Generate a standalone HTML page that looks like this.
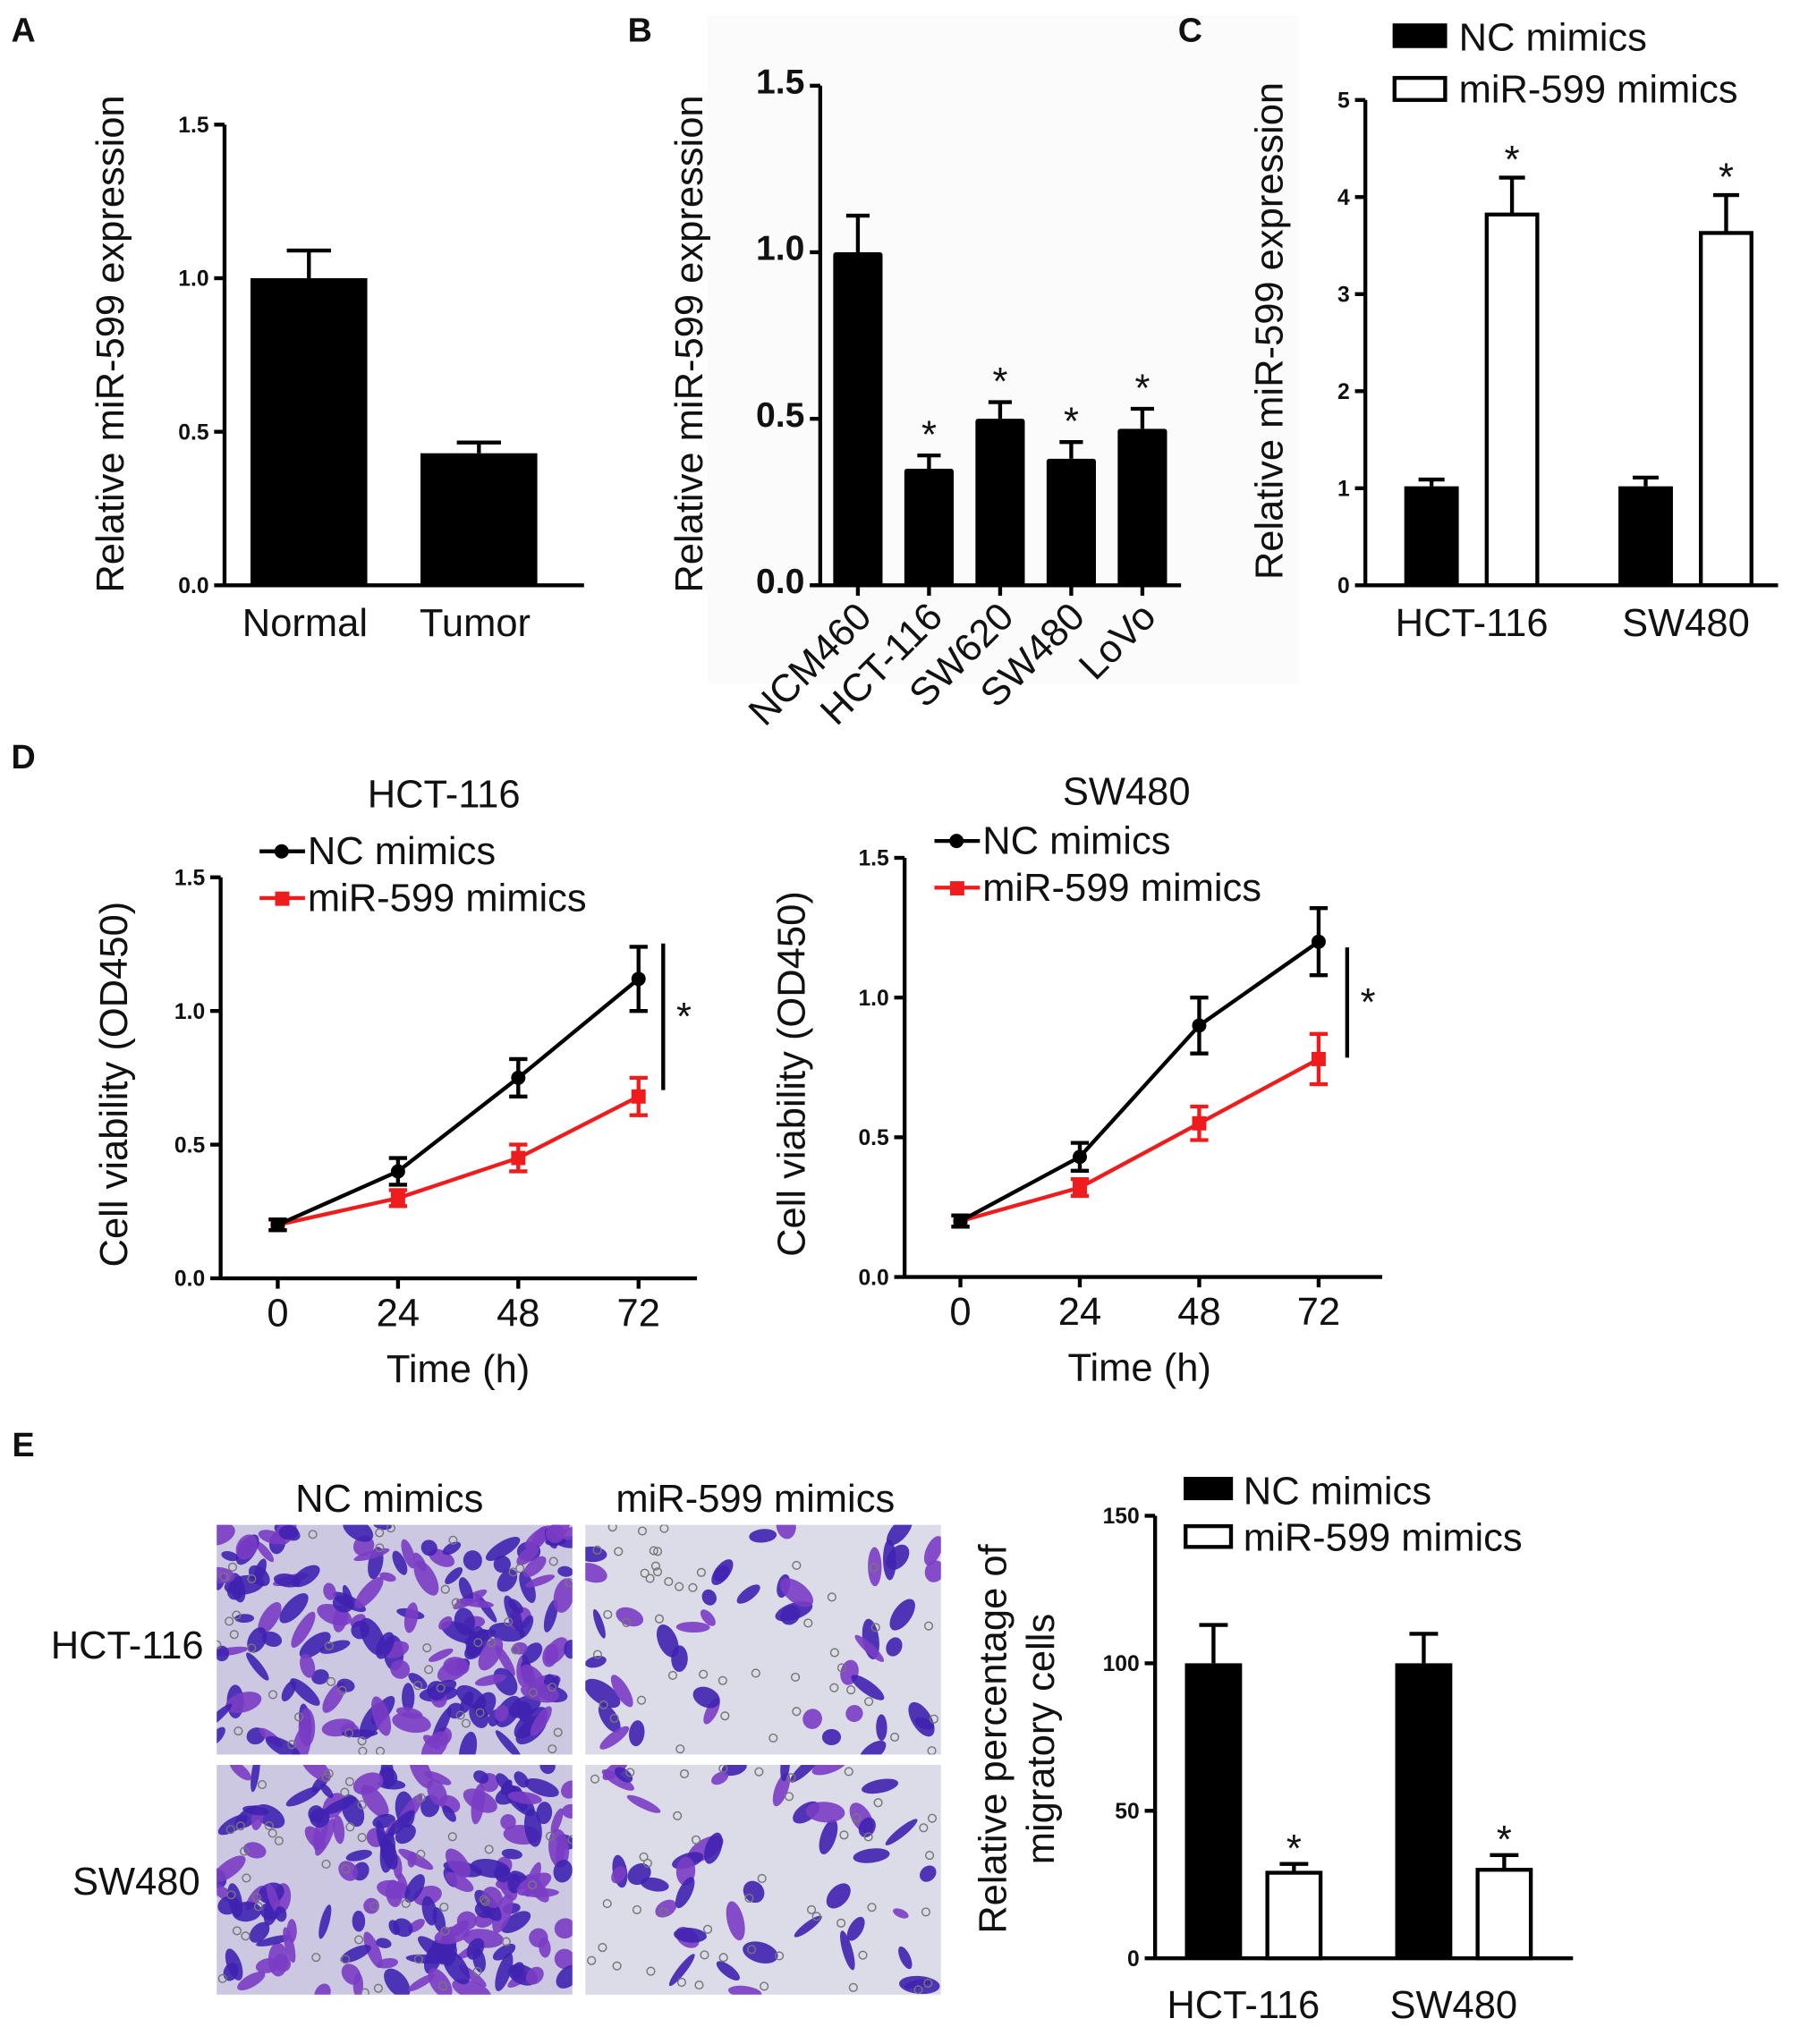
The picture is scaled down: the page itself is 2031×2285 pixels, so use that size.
<!DOCTYPE html>
<html><head><meta charset="utf-8"><style>
html,body{margin:0;padding:0;background:#fff}
svg{display:block}
text{font-family:"Liberation Sans",sans-serif;fill:#111}
.tk{font-size:17px;font-weight:bold}
.tkb{font-size:27px;font-weight:bold}
.lb{font-size:30px}
.pl{font-size:26px;font-weight:bold}
</style></head><body>
<svg id="fig" width="2031" height="2285" viewBox="0 0 1400 1575" xmlns="http://www.w3.org/2000/svg">
<g id="root"></g>
</svg>
<script>
// ---- data ----
const aCats=["Normal","Tumor"];
const aVals=[1.0,0.43];
const aErr=[0.09,0.035];
const aTicks=["0.0","0.5","1.0","1.5"];

const bCats=["NCM460","HCT-116","SW620","SW480","LoVo"];
const bVals=[1.0,0.35,0.50,0.38,0.47];
const bErr=[0.11,0.04,0.05,0.05,0.06];
const bTicks=["0.0","0.5","1.0","1.5"];

const cCats=["HCT-116","SW480"];
const cNC=[1.02,1.02];
const cNCerr=[0.07,0.09];
const cMiR=[3.82,3.63];
const cMiRerr=[0.38,0.39];
const cTicks=["0","1","2","3","4","5"];

const dTimes=[0,24,48,72];
const d1NC=[0.2,0.4,0.75,1.12];
const d1NCerr=[0.02,0.05,0.07,0.12];
const d1MiR=[0.2,0.3,0.45,0.68];
const d1MiRerr=[0.02,0.03,0.05,0.07];
const d2NC=[0.2,0.43,0.9,1.2];
const d2NCerr=[0.02,0.05,0.1,0.12];
const d2MiR=[0.2,0.32,0.55,0.78];
const d2MiRerr=[0.02,0.03,0.06,0.09];
const dTicks=["0.0","0.5","1.0","1.5"];

const eCats=["HCT-116","SW480"];
const eNC=[100,100];
const eNCerr=[13,10];
const eMiR=[29,30];
const eMiRerr=[3,5];
const eTicks=["0","50","100","150"];

// ---- helpers ----
const NS="http://www.w3.org/2000/svg";
const root=document.getElementById('root');
function el(tag,attrs,parent,txt){const e=document.createElementNS(NS,tag);for(const k in attrs)e.setAttribute(k,attrs[k]);if(txt!==undefined)e.textContent=txt;(parent||root).appendChild(e);return e;}
function line(x1,y1,x2,y2,c,w,p){return el('line',{x1,y1,x2,y2,stroke:c||'#000','stroke-width':w||3},p);}
function group(name){const g=el('g',{});return g;}
function txt(p,x,y,s,cls,anchor,name,extra){const t=el('text',Object.assign({x,y,'class':cls,'text-anchor':anchor||'middle'},extra||{}),p,s);return t;}
function yAxis(g,x,y0,y1,ticks,max,cls,name){
  line(x,y0+1,x,y1,'#000',3,g);
  ticks.forEach((t,i)=>{const y=y0-(y0-y1)*(+t)/max;line(x-8,y,x,y,'#000',3,g);
    txt(g,x-12,y+6,t,cls,'end',name+'-tick-label');});
}
function errBar(g,cx,yTop,yVal,hw,c){line(cx,yVal,cx,yTop,c||'#000',3,g);line(cx-hw,yTop,cx+hw,yTop,c||'#000',3,g);}

// Panel B background
const bg=el('rect',{x:545,y:12,width:455,height:515,fill:'#fbfbfb'});



// ---- Panel A ----
(function(){
 const g=group('panel-a');
 txt(g,18,32,'A','pl','middle','panel-a-label');
 const x0=173,y0=451,y1=96,max=1.5;const sy=v=>y0-(y0-y1)*v/max;
 const xs=[238,369],bw=90;
 aVals.forEach((v,i)=>{
  errBar(g,xs[i],sy(v+aErr[i]),sy(v),17);
  const r=el('rect',{x:xs[i]-bw/2,y:sy(v),width:bw,height:y0-sy(v),fill:'#000'},g);
  
  
  txt(g,xs[i]-3,490,aCats[i],'lb','middle','x-label-'+aCats[i].toLowerCase());
 });
 yAxis(g,x0,y0,y1,aTicks,max,'tk','panel-a');
 line(x0,y0,450,y0,'#000',3,g);
 txt(g,95,265,'Relative miR-599 expression','lb','middle','panel-a-y-title',{transform:'rotate(-90 95 265)'});
})();

// ---- Panel B ----
(function(){
 const g=group('panel-b');
 txt(g,493,32,'B','pl','middle','panel-b-label');
 const x0=632,y0=451,y1=66,max=1.5;const sy=v=>y0-(y0-y1)*v/max;
 const step=54.8,first=661,bw=38;
 bVals.forEach((v,i)=>{const cx=first+i*step;
  errBar(g,cx,sy(v+bErr[i]),sy(v),9);
  const r=el('rect',{x:cx-bw/2,y:sy(v),width:bw,height:y0-sy(v),fill:'#000',rx:2},g);
  
  
  line(cx,y0,cx,y0+8,'#000',3,g);
  if(i>0) txt(g,cx,sy(v+bErr[i])-6,'*','lb','middle','significance-star');
  txt(g,cx+12,y0+26,bCats[i],'lb','end','x-label-'+bCats[i].toLowerCase(),{transform:`rotate(-45 ${cx+12} ${y0+26})`});
 });
 yAxis(g,x0,y0,y1,bTicks,max,'tkb','panel-b');
 line(x0-8,y0,910,y0,'#000',3,g);
 txt(g,541,265,'Relative miR-599 expression','lb','middle','panel-b-y-title',{transform:'rotate(-90 541 265)'});
})();

// ---- Panel C ----
(function(){
 const g=group('panel-c');
 txt(g,917,32,'C','pl','middle','panel-c-label');
 const x0=1052,y0=451,y1=77,max=5;const sy=v=>y0-(y0-y1)*v/max;
 const centers=[1134,1299],bw=42;
 cCats.forEach((c,i)=>{
  const xn=centers[i]-31,xm=centers[i]+31;
  errBar(g,xn,sy(cNC[i]+cNCerr[i]),sy(cNC[i]),10);
  errBar(g,xm,sy(cMiR[i]+cMiRerr[i]),sy(cMiR[i]),10);
  const r1=el('rect',{x:xn-bw/2,y:sy(cNC[i]),width:bw,height:y0-sy(cNC[i]),fill:'#000'},g);
  
  
  const r2=el('rect',{x:xm-bw/2+1.5,y:sy(cMiR[i]),width:bw-3,height:y0-sy(cMiR[i]),fill:'#fff',stroke:'#000','stroke-width':3},g);
  
  
  txt(g,xm,sy(cMiR[i]+cMiRerr[i])-4,'*','lb','middle','significance-star');
  txt(g,centers[i],490,c,'lb','middle','x-label-'+c.toLowerCase());
 });
 yAxis(g,x0,y0,y1,cTicks,max,'tk','panel-c');
 line(x0,y0,1370,y0,'#000',3,g);
 txt(g,988,255,'Relative miR-599 expression','lb','middle','panel-c-y-title',{transform:'rotate(-90 988 255)'});
 const l1=el('rect',{x:1073,y:18,width:42,height:19,fill:'#000'},g);
 txt(g,1124,39,'NC mimics','lb','start','legend-nc');
 const l2=el('rect',{x:1074.5,y:60,width:39,height:17,fill:'#fff',stroke:'#000','stroke-width':3},g);
 txt(g,1124,79,'miR-599 mimics','lb','start','legend-mir599');
})();

// ---- Panel D ----
txt(root,18,592,'D','pl','middle','panel-d-label');
function lineChart(name,o,nc,ncE,mi,miE){
 const g=group(name);
 const sy=v=>o.y0-(o.y0-o.y1)*v/1.5;
 const sx=t=>o.xa+(o.xb-o.xa)*t/72;
 txt(g,o.tx,o.ty,o.title,'lb','middle',name+'-title');
 function series(vals,errs,color,marker,sname){
  const pts=vals.map((v,i)=>sx(dTimes[i])+','+sy(v)).join(' ');
  const pl=el('polyline',{points:pts,fill:'none',stroke:color,'stroke-width':3},g);
  
  vals.forEach((v,i)=>{const x=sx(dTimes[i]);
   line(x,sy(v+errs[i]),x,sy(v-errs[i]),color,3,g);
   line(x-7,sy(v+errs[i]),x+7,sy(v+errs[i]),color,3,g);
   line(x-7,sy(v-errs[i]),x+7,sy(v-errs[i]),color,3,g);
   let m;
   if(marker==='c')m=el('circle',{cx:x,cy:sy(v),r:5.5,fill:color},g);
   else m=el('rect',{x:x-5.5,y:sy(v)-5.5,width:11,height:11,fill:color},g);
   
  });
 }
 series(mi,miE,'#ee1c1c','s','mir599');
 series(nc,ncE,'#000','c','nc');
 yAxis(g,o.x0,o.y0,o.y1,dTicks,1.5,'tk',name);
 line(o.x0,o.y0,o.xe,o.y0,'#000',3,g);
 dTimes.forEach(t=>{line(sx(t),o.y0,sx(t),o.y0+8,'#000',3,g);txt(g,sx(t),o.y0+37,String(t),'lb','middle',name+'-x-tick-label');});
 txt(g,(o.xa+o.xb)/2,o.y0+80,'Time (h)','lb','middle',name+'-x-title');
 txt(g,o.yt,(o.y0+o.y1)/2+5,'Cell viability (OD450)','lb','middle',name+'-y-title',{transform:`rotate(-90 ${o.yt} ${(o.y0+o.y1)/2+5})`});
 line(o.lx,o.ly,o.lx+35,o.ly,'#000',3,g);
 const lc=el('circle',{cx:o.lx+17,cy:o.ly,r:5.5,fill:'#000'},g);
 txt(g,o.lx+37,o.ly+10,'NC mimics','lb','start','legend-nc');
 line(o.lx,o.ly+36,o.lx+35,o.ly+36,'#ee1c1c',3,g);
 const ls=el('rect',{x:o.lx+12,y:o.ly+31,width:11,height:11,fill:'#ee1c1c'},g);
 txt(g,o.lx+37,o.ly+46,'miR-599 mimics','lb','start','legend-mir599');
 line(o.sgx,o.sg1,o.sgx,o.sg2,'#000',3,g);
 txt(g,o.sgx+16,(o.sg1+o.sg2)/2+10,'*','lb','middle','significance-star');
}
lineChart('panel-d-hct116',{x0:170,y0:985,y1:676,xa:214,xb:492,xe:537,title:'HCT-116',tx:342,ty:622,yt:98,lx:200,ly:656,sgx:511,sg1:727,sg2:840},d1NC,d1NCerr,d1MiR,d1MiRerr);
lineChart('panel-d-sw480',{x0:697,y0:984,y1:661,xa:740,xb:1016,xe:1065,title:'SW480',tx:868,ty:620,yt:620,lx:720,ly:648,sgx:1038,sg1:730,sg2:815},d2NC,d2NCerr,d2MiR,d2MiRerr);

// ---- Panel E micrographs ----
(function(){
 const g=group('panel-e-micrographs');
 txt(root,18,1122,'E','pl','middle','panel-e-label');
 txt(g,300,1165,'NC mimics','lb','middle','column-label-nc');
 txt(g,582,1165,'miR-599 mimics','lb','middle','column-label-mir599');
 txt(g,98,1278,'HCT-116','lb','middle','row-label-hct116');
 txt(g,105,1460,'SW480','lb','middle','row-label-sw480');
 const cells=[[167,1175,1],[451,1175,0],[167,1360,1],[451,1360,0]];
 let seed=7;const rnd=()=>{seed=(seed*16807)%2147483647;return seed/2147483647;};
 cells.forEach((c,k)=>{
  const cg=el('g',{},g);
  const cid='clip'+k;const cp=el('clipPath',{id:cid},cg);el('rect',{x:c[0],y:c[1],width:274,height:177},cp);
  el('rect',{x:c[0],y:c[1],width:274,height:177,fill:c[2]?'#cdc8e2':'#dcdbe8'},cg);
  const inner=el('g',{'clip-path':`url(#${cid})`},cg);
  const n=c[2]?170:45;
  for(let i=0;i<n;i++){const cx=c[0]+rnd()*274,cy=c[1]+rnd()*177;
   el('ellipse',{cx,cy,rx:6+rnd()*10,ry:3+rnd()*5,transform:`rotate(${rnd()*180} ${cx} ${cy})`,fill:rnd()<0.6?'#3f22b0':'#7a3cc4',opacity:0.9},inner);}
  for(let i=0;i<45;i++){el('circle',{cx:c[0]+rnd()*274,cy:c[1]+rnd()*177,r:3,fill:'none',stroke:'#777','stroke-width':1},inner);}
 });
})();

// ---- Panel E bar chart ----
(function(){
 const g=group('panel-e-chart');
 const x0=890,y0=1509,y1=1168,max=150;const sy=v=>y0-(y0-y1)*v/max;
 const centers=[966,1128],bw=44;
 eCats.forEach((c,i)=>{
  const xn=centers[i]-31,xm=centers[i]+31;
  errBar(g,xn,sy(eNC[i]+eNCerr[i]),sy(eNC[i]),11);
  errBar(g,xm,sy(eMiR[i]+eMiRerr[i]),sy(eMiR[i]),11);
  const r1=el('rect',{x:xn-bw/2,y:sy(eNC[i]),width:bw,height:y0-sy(eNC[i]),fill:'#000'},g);
  
  
  const r2=el('rect',{x:xm-bw/2+1.5,y:sy(eMiR[i]),width:bw-3,height:y0-sy(eMiR[i]),fill:'#fff',stroke:'#000','stroke-width':3},g);
  
  
  txt(g,xm,sy(eMiR[i]+eMiRerr[i])-2,'*','lb','middle','significance-star');
  txt(g,centers[i]-8,1555,c,'lb','middle','x-label-'+c.toLowerCase());
 });
 yAxis(g,x0,y0,y1,eTicks,max,'tk','panel-e');
 line(x0,y0,1212,y0,'#000',3,g);
 txt(g,775,1340,'Relative percentage of','lb','middle','panel-e-y-title-1',{transform:'rotate(-90 775 1340)'});
 txt(g,812,1340,'migratory cells','lb','middle','panel-e-y-title-2',{transform:'rotate(-90 812 1340)'});
 const l1=el('rect',{x:912,y:1138,width:38,height:18,fill:'#000'},g);
 txt(g,958,1159,'NC mimics','lb','start','legend-nc');
 const l2=el('rect',{x:913.5,y:1176,width:35,height:16,fill:'#fff',stroke:'#000','stroke-width':3},g);
 txt(g,958,1195,'miR-599 mimics','lb','start','legend-mir599');
})();
</script>
</body></html>
